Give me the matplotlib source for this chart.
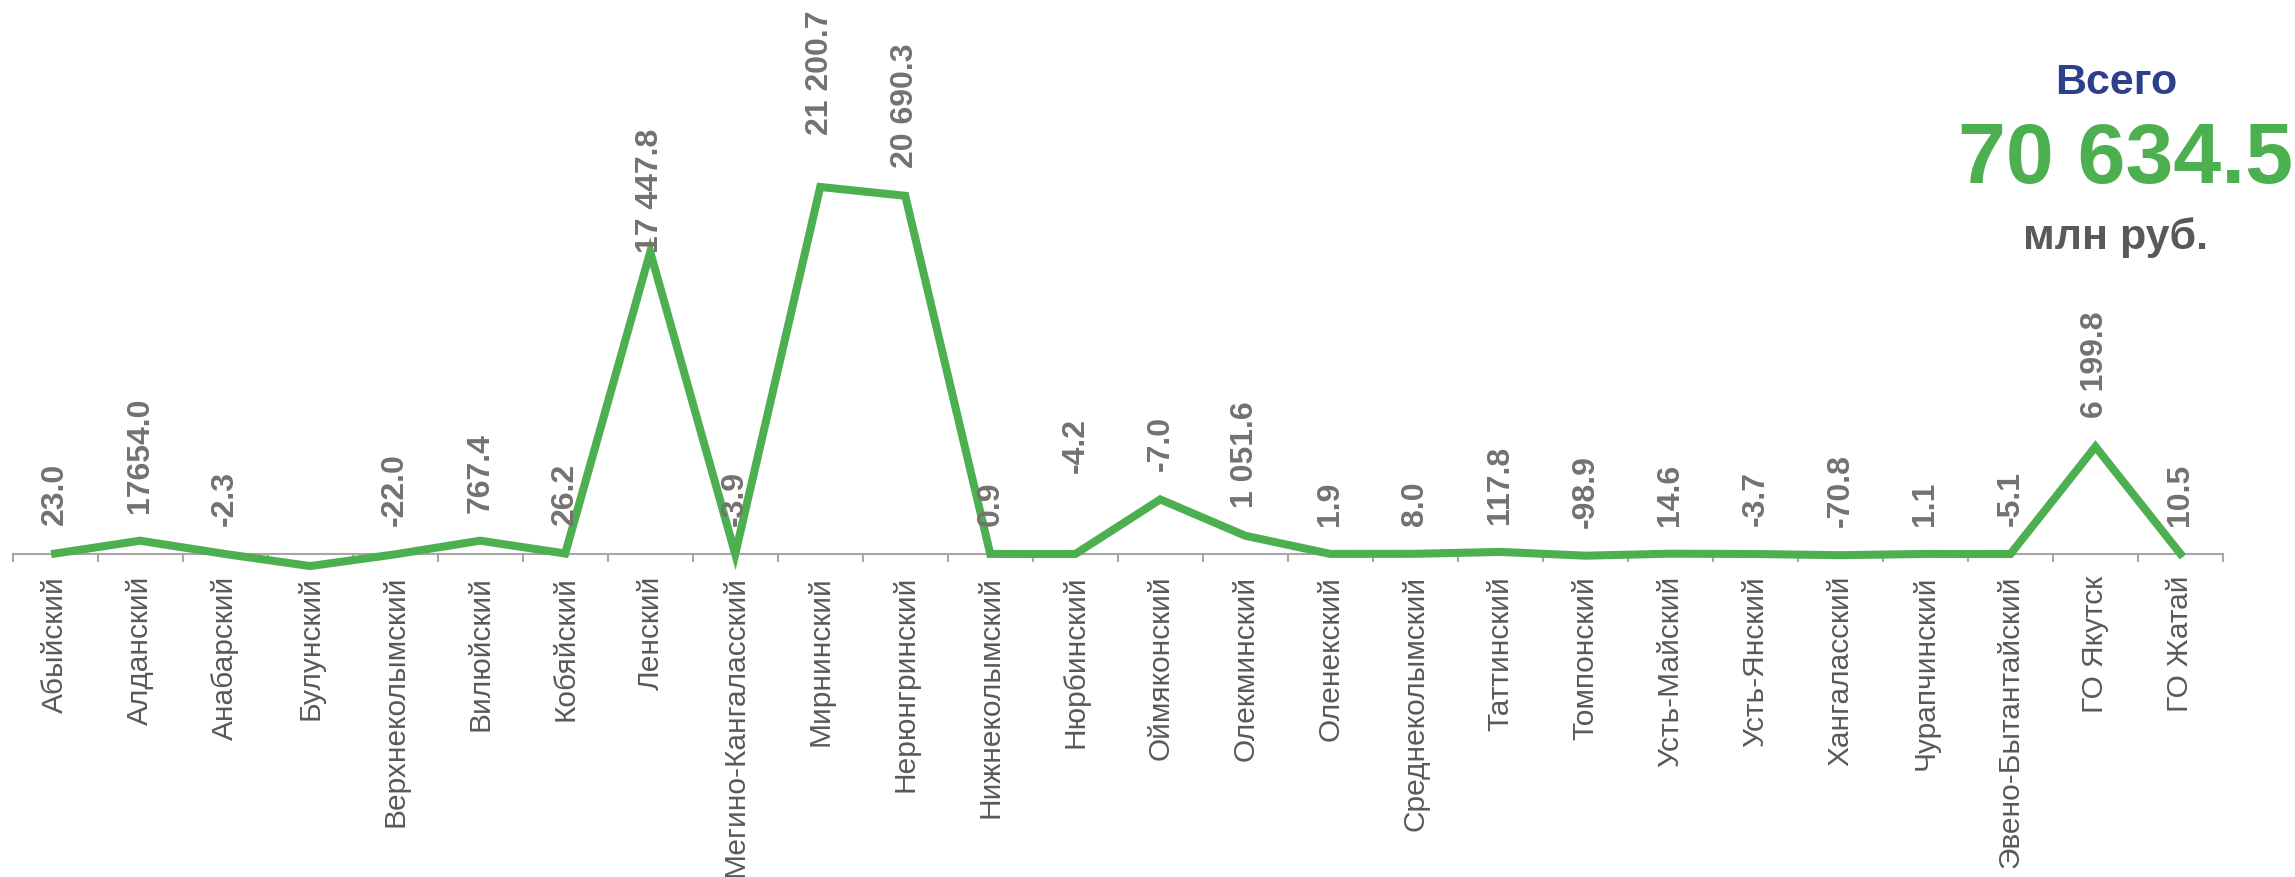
import matplotlib
matplotlib.use("Agg")
import matplotlib.pyplot as plt
import numpy as np

plt.rcParams['font.family'] = ['Liberation Sans', 'DejaVu Sans']

districts = ['Абыйский', 'Алданский', 'Анабарский', 'Булунский', 'Верхнеколымский',
             'Вилюйский', 'Кобяйский', 'Ленский', 'Мегино-Кангаласский', 'Мирнинский',
             'Нерюнгринский', 'Нижнеколымский', 'Нюрбинский', 'Оймяконский', 'Олекминский',
             'Оленекский', 'Среднеколымский', 'Таттинский', 'Томпонский', 'Усть-Майский',
             'Усть-Янский', 'Хангаласский', 'Чурапчинский', 'Эвено-Бытантайский',
             'ГО Якутск', 'ГО Жатай']

# plotted values (mln rub.)
values = [23.0, 765.0, -2.3, -700.0, -22.0, 767.4, 26.2, 17447.8, -3.9, 21200.7,
          20690.3, 0.9, -4.2, 3150.0, 1051.6, 1.9, 8.0, 117.8, -98.9, 14.6,
          -3.7, -70.8, 1.1, -5.1, 6199.8, 10.5]

# data labels as printed on the chart
labels = ['23.0', '17654.0', '-2.3', '', '-22.0', '767.4', '26.2', '17 447.8', '-3.9',
          '21 200.7', '20 690.3', '0.9', '-4.2', '-7.0', '1 051.6', '1.9', '8.0',
          '117.8', '-98.9', '14.6', '-3.7', '-70.8', '1.1', '-5.1', '6 199.8', '10.5']

total_title = 'Всего'
total_value = '70 634.5'
total_unit = 'млн руб.'

GREEN = '#4CAF50'
LABEL_GRAY = '#767171'
TICK_GRAY = '#595959'

# label offsets in points (a few labels were moved by hand in the original)
default_off = 21
special_off = {'Ленский': 0, 'Мирнинский': 38, 'Нюрбинский': 59}

fig = plt.figure(figsize=(22.95, 8.78), dpi=100)
ax = fig.add_axes([0.0055, 0.3285, 0.9631, 0.5126])

x = np.arange(len(districts))
ax.plot(x, values, color=GREEN, lw=5.8, solid_joinstyle='miter', zorder=3)

ax.set_xlim(-0.5, len(districts) - 0.5)
ax.set_ylim(-2000, 24000)

for s in ['top', 'left', 'right']:
    ax.spines[s].set_visible(False)
ax.spines['bottom'].set_position(('data', 0))
ax.spines['bottom'].set_color('#A6A6A6')
ax.spines['bottom'].set_linewidth(1.5)
ax.spines['bottom'].set_zorder(2)
ax.set_yticks([])

ax.set_xticks(np.arange(-0.5, len(districts), 1))
ax.set_xticklabels([])
ax.tick_params(axis='x', which='major', length=6, width=1.5, color='#A6A6A6', direction='out')
ax.set_xticks(x, minor=True)
ax.set_xticklabels(districts, minor=True, rotation=90, fontsize=21.5, color=TICK_GRAY,
                   va='top', ha='center')
ax.tick_params(axis='x', which='minor', length=0, pad=15)

for i, (v, lab) in enumerate(zip(values, labels)):
    if not lab:
        continue
    off = special_off.get(districts[i], default_off)
    ax.annotate(lab, (i, v), xytext=(0, off), textcoords='offset points',
                rotation=90, ha='center', va='bottom', fontsize=23,
                fontweight='bold', color=LABEL_GRAY, annotation_clip=False, zorder=4)

fig.text(0.922, 0.905, total_title, ha='center', va='center', fontsize=31,
         fontweight='bold', color='#2E3F8C')
fig.text(0.999, 0.817, total_value, ha='right', va='center', fontsize=62,
         fontweight='bold', color=GREEN)
fig.text(0.922, 0.730, total_unit, ha='center', va='center', fontsize=31,
         fontweight='bold', color=TICK_GRAY)

fig.savefig('out.png', dpi=100)
